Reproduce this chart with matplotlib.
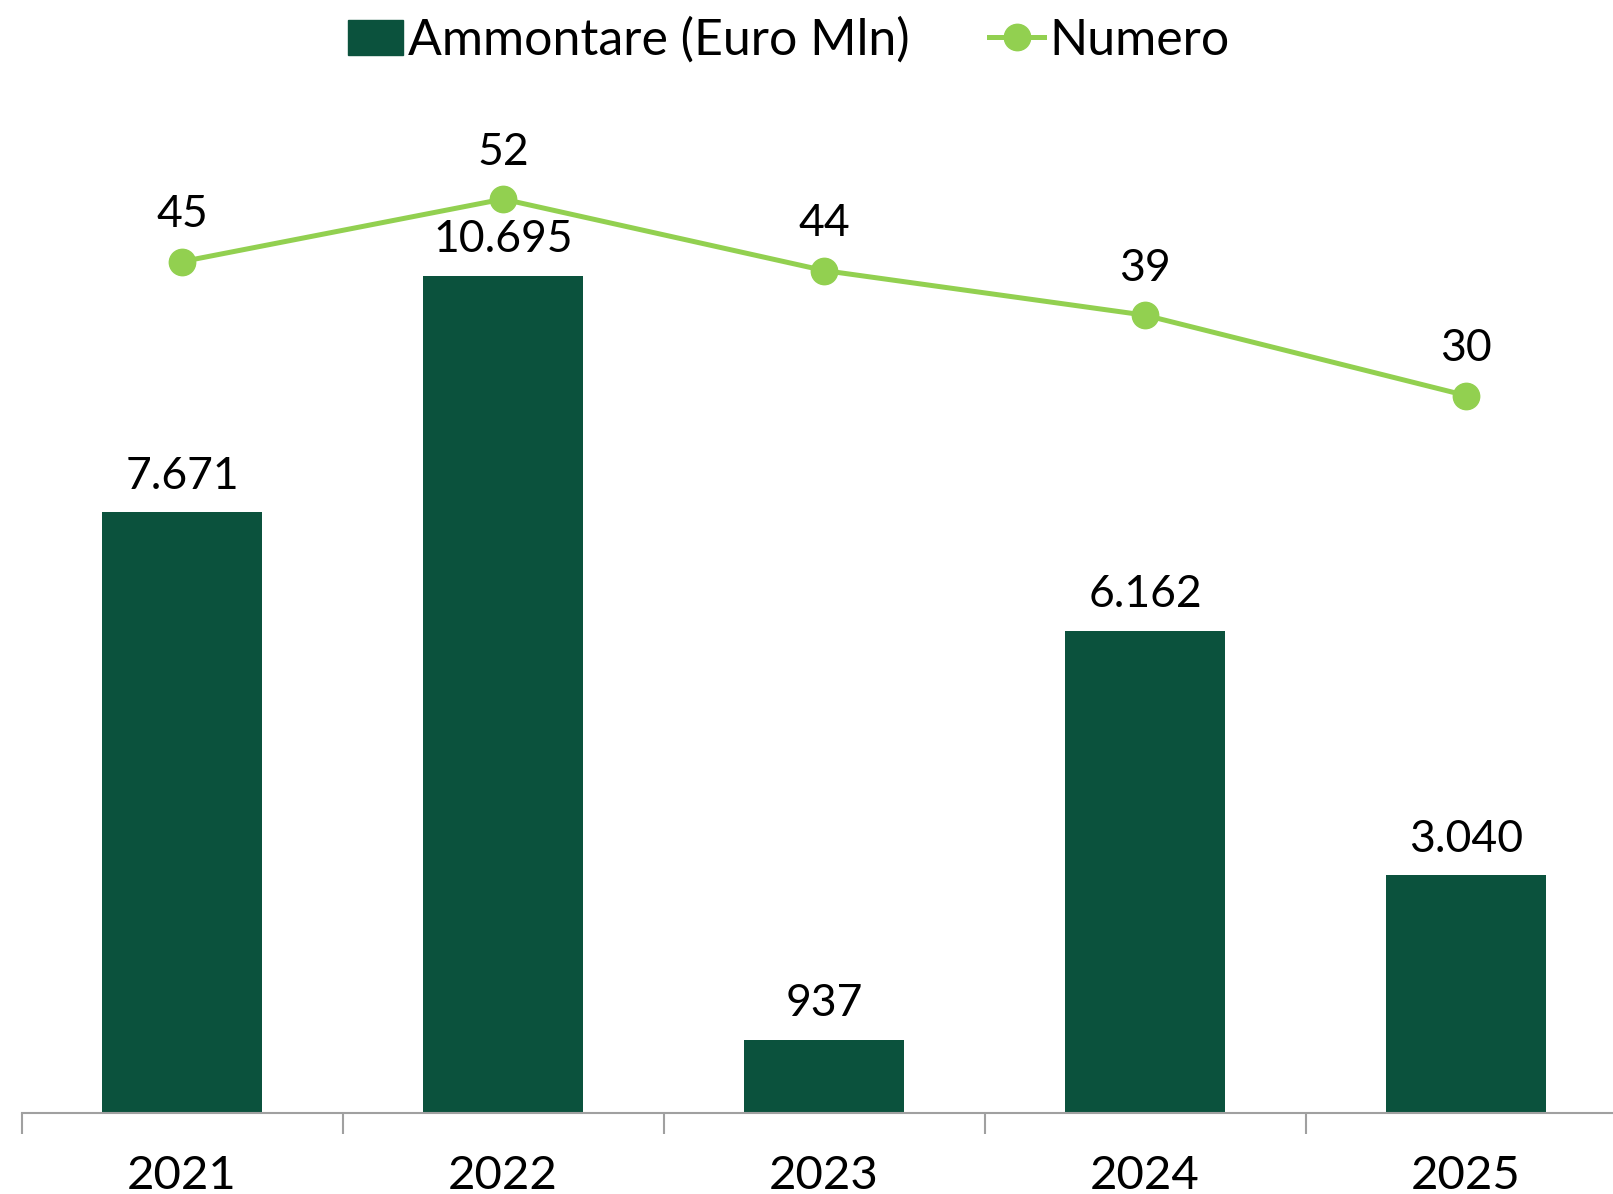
import matplotlib
matplotlib.use("Agg")
import matplotlib.pyplot as plt
from matplotlib.lines import Line2D
from matplotlib.patches import Patch

years = ["2021", "2022", "2023", "2024", "2025"]
ammontare = [7671, 10695, 937, 6162, 3040]
numero = [45, 52, 44, 39, 30]

bar_labels = ["7.671", "10.695", "937", "6.162", "3.040"]

bar_color = "#0B523D"
line_color = "#92D050"

plt.rcParams["font.family"] = ["Lato", "DejaVu Sans"]

fig = plt.figure(figsize=(16.13, 11.94), dpi=100)
ax = fig.add_axes([0.0134, 0.0678, 0.995, 0.787])

x = list(range(len(years)))
bars = ax.bar(x, ammontare, width=0.5, color=bar_color, zorder=2)
for xi, v, lab in zip(x, ammontare, bar_labels):
    ax.annotate(lab, (xi, v), xytext=(0, 11), textcoords="offset points",
                ha="center", va="bottom", fontsize=32, color="black")

ax.set_xlim(-0.5, 4.5)
ax.set_ylim(0, 12000)
ax.set_yticks([])
for s in ["top", "right", "left"]:
    ax.spines[s].set_visible(False)
ax.spines["bottom"].set_color("#A0A0A0")
ax.spines["bottom"].set_linewidth(1.5)

# category boundaries as ticks, labels in the middle
ax.set_xticks([-0.5, 0.5, 1.5, 2.5, 3.5, 4.5])
ax.set_xticklabels([])
ax.tick_params(axis="x", which="major", length=15, width=1.5, color="#A0A0A0", direction="out")
ax.set_xticks(x, minor=True)
ax.set_xticklabels(years, minor=True, fontsize=34)
ax.tick_params(axis="x", which="minor", length=0, pad=30)

ax2 = ax.twinx()
ax2.plot(x, numero, color=line_color, linewidth=3.6, marker="o", markersize=19, zorder=3)
for xi, v in zip(x, numero):
    ax2.annotate(str(v), (xi, v), xytext=(0, 19), textcoords="offset points",
                 ha="center", va="bottom", fontsize=32, color="black")
ax2.set_ylim(-50.34, 54.88)
ax2.set_yticks([])
for s in ["top", "right", "left", "bottom"]:
    ax2.spines[s].set_visible(False)

handles = [Patch(facecolor=bar_color, edgecolor=bar_color),
           Line2D([0], [0], color=line_color, linewidth=3.6, marker="o", markersize=19)]
fig.legend(handles, ["Ammontare (Euro Mln)", "Numero"], loc="center",
           bbox_to_anchor=(0.489, 0.966), ncol=2, frameon=False, fontsize=36,
           handlelength=1.1, handletextpad=0.1, columnspacing=1.6)

fig.savefig("out.png", dpi=100)
